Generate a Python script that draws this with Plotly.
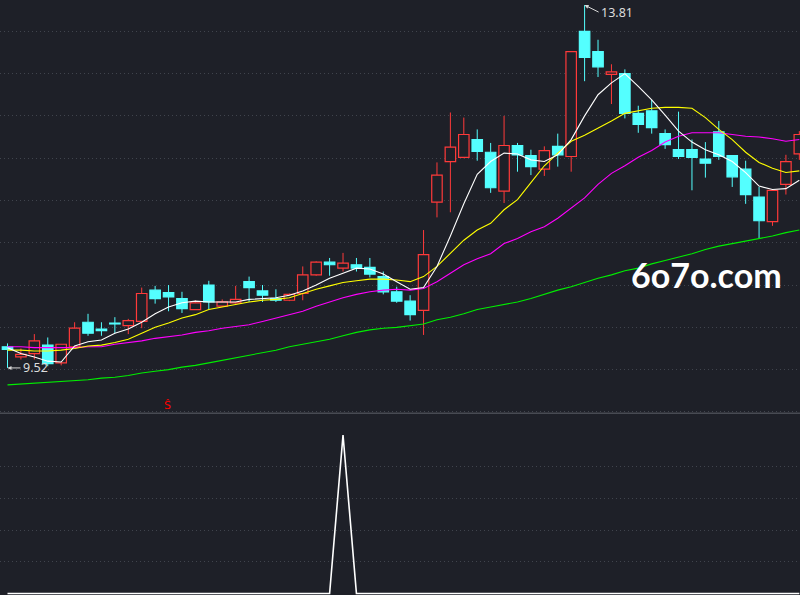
import plotly.graph_objects as go
from plotly.subplots import make_subplots

# ---------------- data ----------------
opens = [9.77, 9.65, 9.69, 9.79, 9.58, 9.77, 10.06, 9.98, 10.05, 10.02,
         10.07, 10.44, 10.41, 10.34, 10.21, 10.50, 10.25, 10.29, 10.54, 10.43,
         10.34, 10.32, 10.40, 10.62, 10.77, 10.70, 10.74, 10.71, 10.60, 10.42,
         10.31, 10.20, 11.48, 11.96, 12.01, 12.22, 12.07, 11.61, 12.15, 12.03,
         11.87, 12.14, 12.02, 13.50, 13.26, 12.99, 13.00, 12.53, 12.56, 12.29,
         12.10, 12.10, 11.99, 12.31, 12.03, 11.87, 11.54, 11.25, 11.69, 12.05]
highs = [9.81, 9.75, 9.92, 9.88, 9.80, 10.06, 10.16, 10.06, 10.12, 10.10,
         10.47, 10.49, 10.50, 10.42, 10.32, 10.55, 10.33, 10.49, 10.60, 10.50,
         10.45, 10.40, 10.72, 10.78, 10.82, 10.88, 10.82, 10.82, 10.66, 10.48,
         10.38, 11.15, 11.95, 12.54, 12.48, 12.34, 12.18, 12.50, 12.18, 12.10,
         12.14, 12.29, 13.26, 13.81, 13.40, 13.11, 13.05, 12.62, 12.69, 12.34,
         12.55, 12.22, 12.19, 12.44, 12.03, 11.97, 11.66, 11.63, 12.04, 12.32]
lows = [9.52, 9.62, 9.62, 9.54, 9.55, 9.76, 9.90, 9.90, 9.93, 9.92,
        9.99, 10.28, 10.19, 10.17, 10.21, 10.21, 10.24, 10.28, 10.30, 10.30,
        10.30, 10.31, 10.32, 10.61, 10.61, 10.66, 10.66, 10.59, 10.39, 10.29,
        10.08, 9.91, 11.30, 11.36, 12.00, 11.97, 11.59, 11.47, 11.84, 11.80,
        11.79, 11.90, 11.84, 12.91, 12.96, 12.64, 12.47, 12.30, 12.29, 12.11,
        11.99, 11.62, 11.77, 11.98, 11.66, 11.46, 11.05, 11.20, 11.57, 11.98]
closes = [9.74, 9.68, 9.84, 9.57, 9.80, 9.99, 9.93, 9.96, 10.04, 10.08,
          10.40, 10.34, 10.36, 10.22, 10.29, 10.30, 10.30, 10.33, 10.47, 10.38,
          10.32, 10.39, 10.62, 10.77, 10.74, 10.76, 10.70, 10.63, 10.42, 10.31,
          10.15, 10.86, 11.80, 12.13, 12.28, 12.08, 11.65, 12.15, 12.04, 11.90,
          12.09, 12.04, 13.26, 13.19, 13.08, 13.02, 12.53, 12.40, 12.36, 12.16,
          12.02, 12.01, 11.94, 12.02, 11.78, 11.57, 11.26, 11.62, 11.96, 12.28]

ma5 = [9.76, 9.69, 9.65, 9.60, 9.59, 9.78, 9.83, 9.85, 9.93, 9.98,
       10.06, 10.16, 10.24, 10.29, 10.31, 10.30, 10.30, 10.30, 10.33, 10.34,
       10.35, 10.38, 10.43, 10.50, 10.58, 10.64, 10.70, 10.69, 10.63, 10.54,
       10.45, 10.47, 10.72, 11.08, 11.46, 11.81, 11.96, 12.06, 12.05, 11.98,
       11.96, 12.04, 12.22, 12.50, 12.75, 12.89, 13.00, 12.85, 12.69, 12.51,
       12.32, 12.19, 12.10, 12.04, 11.96, 11.83, 11.67, 11.63, 11.64, 11.74]
ma10 = [9.73, 9.73, 9.72, 9.72, 9.73, 9.75, 9.78, 9.79, 9.82, 9.86,
        9.93, 10.00, 10.05, 10.11, 10.15, 10.21, 10.24, 10.27, 10.30, 10.32,
        10.33, 10.35, 10.40, 10.45, 10.49, 10.53, 10.55, 10.57, 10.57, 10.56,
        10.54, 10.60, 10.72, 10.88, 11.03, 11.15, 11.23, 11.39, 11.51, 11.71,
        11.91, 12.06, 12.20, 12.27, 12.35, 12.44, 12.53, 12.56, 12.59, 12.60,
        12.60, 12.59, 12.48, 12.34, 12.22, 12.07, 11.95, 11.88, 11.83, 11.85]
ma20 = [9.77, 9.77, 9.76, 9.76, 9.76, 9.76, 9.77, 9.77, 9.80, 9.82,
        9.84, 9.87, 9.89, 9.91, 9.94, 9.96, 9.99, 10.01, 10.03, 10.07,
        10.11, 10.15, 10.19, 10.25, 10.30, 10.35, 10.39, 10.42, 10.44, 10.45,
        10.44, 10.46, 10.54, 10.64, 10.74, 10.81, 10.87, 10.99, 11.05, 11.13,
        11.19, 11.29, 11.41, 11.53, 11.69, 11.82, 11.91, 12.01, 12.09, 12.19,
        12.26, 12.30, 12.30, 12.30, 12.28, 12.26, 12.25, 12.23, 12.20, 12.22]
ma60 = [9.32, 9.33, 9.34, 9.35, 9.36, 9.37, 9.38, 9.40, 9.41, 9.43,
        9.46, 9.48, 9.50, 9.53, 9.55, 9.58, 9.61, 9.64, 9.67, 9.70,
        9.73, 9.77, 9.80, 9.83, 9.86, 9.90, 9.94, 9.97, 9.99, 10.00,
        10.02, 10.04, 10.09, 10.12, 10.16, 10.21, 10.24, 10.27, 10.30, 10.34,
        10.39, 10.44, 10.48, 10.53, 10.58, 10.62, 10.67, 10.70, 10.75, 10.79,
        10.83, 10.87, 10.92, 10.96, 10.99, 11.02, 11.05, 11.08, 11.12, 11.15]

indicator = [0] * 25 + [100] + [0] * 34
signal_idx = [12]
signal_text = "Ŝ"
high_label = "13.81"
low_label = "9.52"
watermark = "6o7o.com"

# ---------------- styling ----------------
BG = "#1e2028"
GRID = "#40444d"
RED = "#ff3a3a"
CYAN = "#54ffff"

n = len(closes)
xs = list(range(n))
up = [c >= o for o, c in zip(opens, closes)]

fig = make_subplots(rows=2, cols=1, shared_xaxes=True,
                    row_heights=[0.694, 0.306], vertical_spacing=0.0)

# wicks (split so they never cross a hollow body)
for is_up, col in ((True, RED), (False, CYAN)):
    wx, wy = [], []
    for i in xs:
        if up[i] != is_up:
            continue
        top = max(opens[i], closes[i])
        bot = min(opens[i], closes[i])
        wx += [i, i, None, i, i, None]
        wy += [top, highs[i], None, bot, lows[i], None]
    fig.add_trace(go.Scatter(x=wx, y=wy, mode="lines",
                             line=dict(color=col, width=1),
                             hoverinfo="skip"), row=1, col=1)

# bodies
for is_up, col, fill in ((True, RED, BG), (False, CYAN, CYAN)):
    bx = [i for i in xs if up[i] == is_up]
    bb = [min(opens[i], closes[i]) for i in bx]
    bh = [max(abs(closes[i] - opens[i]), 0.004) for i in bx]
    fig.add_trace(go.Bar(x=bx, y=bh, base=bb, width=0.78,
                         marker=dict(color=fill, line=dict(color=col, width=1.2)),
                         hoverinfo="skip"), row=1, col=1)

# moving averages
for series, col in ((ma60, "#00ee00"), (ma20, "#ff00ff"),
                    (ma10, "#ffff00"), (ma5, "#ffffff")):
    fig.add_trace(go.Scatter(x=xs, y=series, mode="lines",
                             line=dict(color=col, width=1.1),
                             hoverinfo="skip"), row=1, col=1)

# lower indicator
fig.add_trace(go.Scatter(x=xs, y=indicator, mode="lines",
                         line=dict(color="#ffffff", width=1.6),
                         hoverinfo="skip"), row=2, col=1)

# annotations: high / low labels
i_hi = highs.index(max(highs))
i_lo = lows.index(min(lows))
fig.add_annotation(x=i_hi, y=highs[i_hi], xref="x", yref="y",
                   text=high_label, showarrow=True, arrowhead=2,
                   arrowsize=0.8, arrowwidth=1, arrowcolor="#d8d8d8",
                   ax=14, ay=7, xanchor="left", yanchor="middle",
                   font=dict(family="Noto Sans", size=12.5, color="#dcdcdc"))
fig.add_annotation(x=i_lo, y=lows[i_lo], xref="x", yref="y",
                   text=low_label, showarrow=True, arrowhead=2,
                   arrowsize=0.8, arrowwidth=1, arrowcolor="#d8d8d8",
                   ax=13, ay=0, xanchor="left", yanchor="middle",
                   font=dict(family="Noto Sans", size=12.5, color="#dcdcdc"))

for i in signal_idx:
    fig.add_annotation(x=i, y=9.08, xref="x", yref="y", text=signal_text,
                       showarrow=False, xshift=-1,
                       font=dict(family="DejaVu Sans", size=11, color="#ff0000"))

fig.add_annotation(x=0.8825, y=0.538, xref="paper", yref="paper",
                   xanchor="center", yanchor="middle",
                   text="<b>" + watermark + "</b>", showarrow=False,
                   font=dict(family="Lato", size=34, color="#ffffff"))

# divider between panels
fig.add_shape(type="line", xref="paper", yref="paper", x0=0, x1=1,
              y0=1 - 413.3 / 595, y1=1 - 413.3 / 595,
              line=dict(color="#484b53", width=1.5))

fig.update_layout(
    width=800, height=595, margin=dict(l=0, r=0, t=0, b=0),
    paper_bgcolor=BG, plot_bgcolor=BG, showlegend=False,
    barmode="overlay", hovermode=False,
)
fig.update_xaxes(range=[-0.559, 59.05], showgrid=False, zeroline=False,
                 showticklabels=False, ticks="", showline=False)
fig.update_yaxes(range=[8.988, 13.870], dtick=0.5, tick0=9.5,
                 showgrid=True, gridcolor=GRID, griddash="1px,3px",
                 gridwidth=1, zeroline=False, showticklabels=False,
                 ticks="", row=1, col=1)
fig.update_yaxes(range=[-0.95, 113.97], tickvals=[20, 40, 60, 80],
                 showgrid=True, gridcolor=GRID, griddash="1px,3px",
                 gridwidth=1, zeroline=False, showticklabels=False,
                 ticks="", row=2, col=1)

fig.write_html("out.html", config={"displayModeBar": False},
               post_script="document.body.style.margin='0';"
                           "document.body.style.background='" + BG + "';")
